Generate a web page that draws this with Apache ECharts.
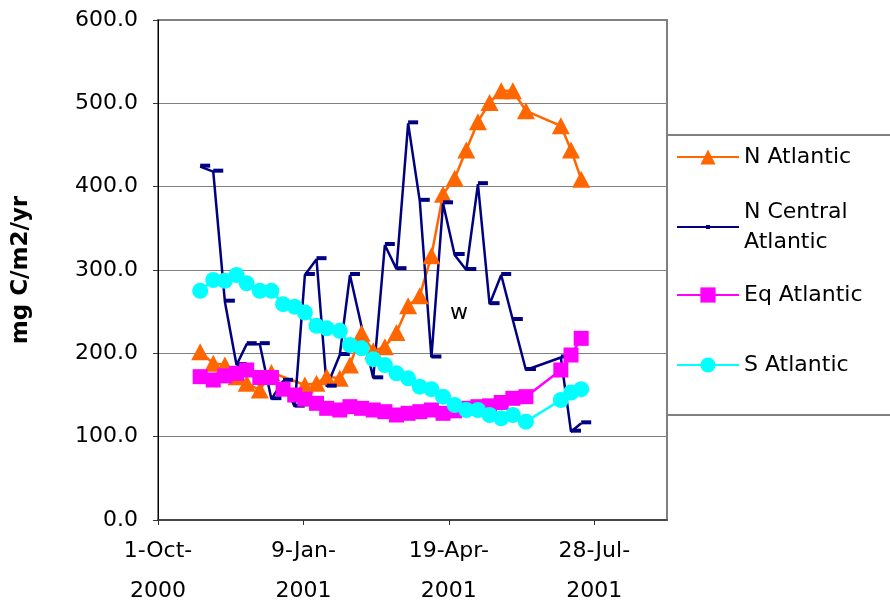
<!DOCTYPE html>
<html>
<head>
<meta charset="utf-8">
<script src="https://cdn.jsdelivr.net/npm/echarts@6/dist/echarts.min.js"></script>
<style>
html,body{margin:0;padding:0;background:#fff;}
#chart{width:890px;height:611px;}
</style>
</head>
<body>
<div id="chart"></div>
<script>
// ---- data ----
const sampleDates = ['2000-10-30','2000-11-08','2000-11-16','2000-11-24','2000-12-01','2000-12-10','2000-12-18','2000-12-26',
  '2001-01-03','2001-01-10','2001-01-18','2001-01-25','2001-02-03','2001-02-10','2001-02-18','2001-02-26',
  '2001-03-06','2001-03-14','2001-03-22','2001-03-30','2001-04-07','2001-04-15','2001-04-23','2001-05-01',
  '2001-05-09','2001-05-17','2001-05-25','2001-06-02','2001-06-11','2001-07-05','2001-07-12','2001-07-19'];
const nAtlantic = [202,188,186,172,164,156,177,null,null,162,164,172,170,186,224,203,208,225,257,269,317,391,410,444,478,501,515,515,491,473,444,409];
const nCentralAtlantic = [424,418,262,186,211,211,145,167,136,294,313,160,198,294,null,170,330,301,476,383,195,380,318,300,403,259,294,240,180,195,106,116];
const eqAtlantic = [172,168,173,176,180,171,171,157,150,145,140,134,132,136,134,132,130,126,128,130,132,128,131,134,136,137,141,146,148,180,198,218];
const sAtlantic = [275,288,287,294,284,275,275,259,256,249,233,230,227,210,206,193,186,176,170,160,157,148,138,132,132,126,122,126,118,144,153,157];
const seriesNames = ['N Atlantic','N Central Atlantic','Eq Atlantic','S Atlantic'];
const axisStartDate = '2000-10-01';
const axisEndDate = '2001-09-16';
const xTickDays = 100;
const yTicks = [0,100,200,300,400,500,600];
const yTitle = 'mg C/m2/yr';
const annotationText = 'w';

// ---- helpers ----
const DAY = 86400000;
function toUTC(s){const p=s.split('-').map(Number);return Date.UTC(p[0],p[1]-1,p[2]);}
const origin = toUTC(axisStartDate);
function dayOf(s){return Math.round((toUTC(s)-origin)/DAY);}
const months=['Jan','Feb','Mar','Apr','May','Jun','Jul','Aug','Sep','Oct','Nov','Dec'];
function dayLabel(v){const d=new Date(origin+v*DAY);return d.getUTCDate()+'-'+months[d.getUTCMonth()]+'-\n'+d.getUTCFullYear();}
function pairs(vals){return vals.map((v,i)=>[dayOf(sampleDates[i]),v]);}

const FONT='DejaVu Sans';
const chart = echarts.init(document.getElementById('chart'), null, {renderer:'canvas'});

function legendFor(name, top, extra){
  return Object.assign({
    orient:'vertical', left:676, top:top, padding:0,
    itemWidth:62, itemHeight:19, itemGap:0, selectedMode:false,
    data:[name],
    textStyle:{fontFamily:FONT,fontSize:22,color:'#000',lineHeight:30}
  }, extra||{});
}

const option = {
  backgroundColor:'#fff',
  animation:false,
  grid:{left:158,right:223,top:20,bottom:89,show:true,borderColor:'#808080',borderWidth:2,backgroundColor:'#fff'},
  xAxis:{
    type:'value',
    min:0,
    max:dayOf(axisEndDate),
    interval:xTickDays,
    axisLine:{show:true,lineStyle:{color:'#333',width:1.5}},
    axisTick:{show:true,inside:false,length:5,lineStyle:{color:'#333'}},
    splitLine:{show:false},
    axisLabel:{formatter:dayLabel,showMaxLabel:false,fontFamily:FONT,fontSize:22,color:'#000',lineHeight:40,margin:11}
  },
  yAxis:{
    type:'value',
    min:yTicks[0],
    max:yTicks[yTicks.length-1],
    interval:yTicks[1]-yTicks[0],
    name:yTitle,
    nameLocation:'middle',
    nameGap:125,
    nameRotate:90,
    nameTextStyle:{fontFamily:FONT,fontWeight:'bold',fontSize:23,color:'#000'},
    axisLine:{show:true,lineStyle:{color:'#000',width:1}},
    axisTick:{show:true,inside:false,length:5,lineStyle:{color:'#333'}},
    splitLine:{show:true,lineStyle:{color:'#808080',width:1}},
    axisLabel:{formatter:v=>v.toFixed(1),fontFamily:FONT,fontSize:22,color:'#000',margin:20}
  },
  legend:[
    legendFor(seriesNames[0],142),
    legendFor(seriesNames[1],182,{itemHeight:5,formatter:()=> 'N Central\nAtlantic',
      textStyle:{fontFamily:FONT,fontSize:22,color:'#000',lineHeight:30,padding:[30,0,0,0]}}),
    legendFor(seriesNames[2],280),
    legendFor(seriesNames[3],350)
  ],
  graphic:[
    {type:'rect',z:0,shape:{x:667,y:135,width:240,height:280},style:{fill:'#fff',stroke:'#808080',lineWidth:2}},
    {type:'text',z:10,x:459,y:313,style:{text:annotationText,fontFamily:FONT,fontSize:22,fill:'#000',align:'center',verticalAlign:'middle'}}
  ],
  series:[
    {name:seriesNames[0],type:'line',data:pairs(nAtlantic),connectNulls:true,
      symbol:'triangle',symbolSize:[18,17],
      lineStyle:{color:'#FF6600',width:2.5},itemStyle:{color:'#FF6600'}},
    {name:seriesNames[1],type:'line',data:pairs(nCentralAtlantic),connectNulls:true,
      symbol:'rect',symbolSize:[10,4],symbolOffset:[5,-1],
      lineStyle:{color:'#000080',width:2.5},itemStyle:{color:'#000080'}},
    {name:seriesNames[2],type:'line',data:pairs(eqAtlantic),connectNulls:true,
      symbol:'rect',symbolSize:15,
      lineStyle:{color:'#FF00FF',width:2.5},itemStyle:{color:'#FF00FF'}},
    {name:seriesNames[3],type:'line',data:pairs(sAtlantic),connectNulls:true,
      symbol:'circle',symbolSize:16,
      lineStyle:{color:'#00FFFF',width:2.5},itemStyle:{color:'#00FFFF'}}
  ]
};
chart.setOption(option);
</script>
</body>
</html>
